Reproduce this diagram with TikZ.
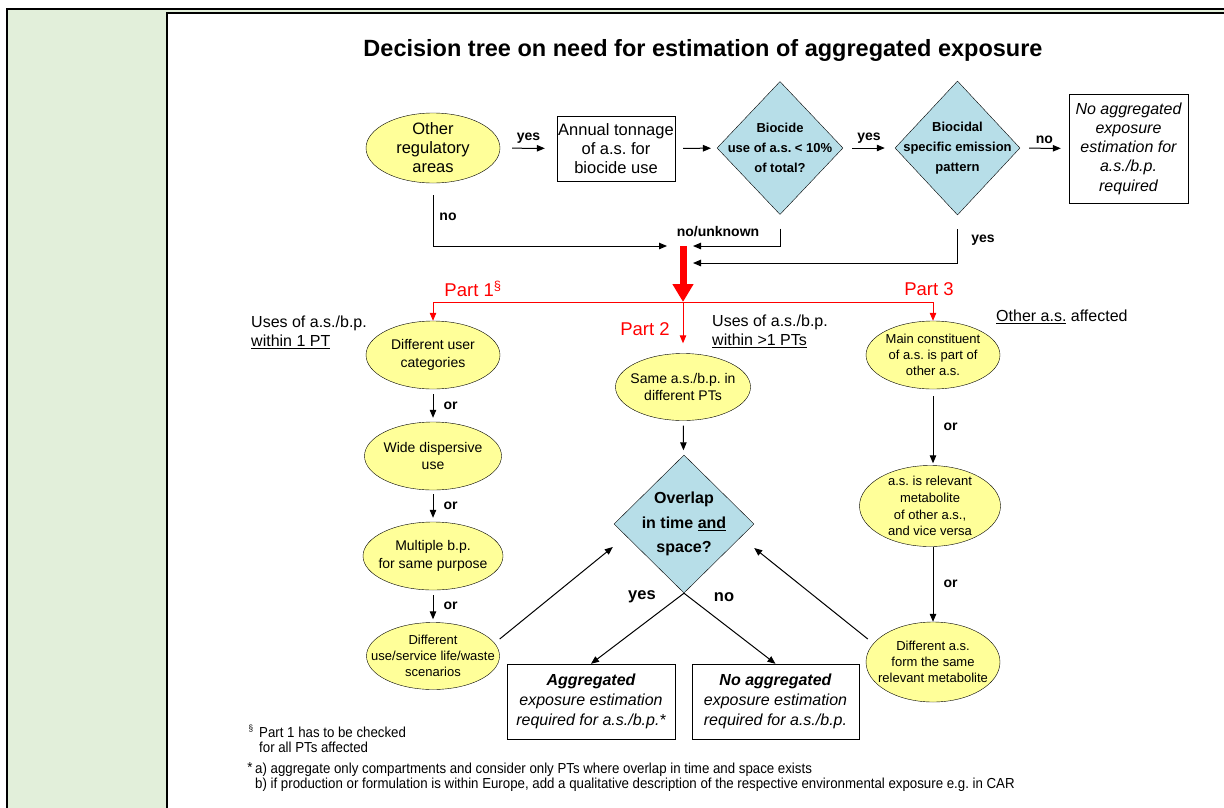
\documentclass[tikz,border=0pt]{standalone}
\usepackage{fontspec}
\setmainfont{Liberation Sans}
\newfontfamily\narrowsf{Liberation Sans}[FakeStretch=0.915]
\usetikzlibrary{shapes.geometric,arrows.meta,positioning,calc}
\definecolor{panelgreen}{RGB}{226,239,218}
\definecolor{ovalyellow}{RGB}{255,255,153}
\definecolor{diamblue}{RGB}{183,222,232}
\newcommand{\fsz}[2]{\fontsize{#1}{#2}\selectfont}
\frenchspacing

\begin{document}
\begin{tikzpicture}[x=1pt, y=-1pt,
    oval/.style={ellipse, draw=black, fill=ovalyellow, inner sep=0pt},
    choice/.style={diamond, draw=black, fill=diamblue, inner sep=0pt},
    box/.style={rectangle, draw=black, fill=white, inner sep=0pt, align=center},
    otxt/.style={align=center, inner sep=0pt, font=\fsz{14}{17.5}},
    stxt/.style={align=center, inner sep=0pt, font=\fsz{13}{15.8}},
    dtxt/.style={align=center, inner sep=0pt, font=\fsz{13}{20}\bfseries},
    lbl/.style={font=\fsz{14}{16}\bfseries, inner sep=1pt},
    anno/.style={align=left, inner sep=0pt, font=\fsz{16}{19}},
    parttxt/.style={text=red, inner sep=0pt, font=\fsz{18.5}{20}},
    arrow/.style={-{Triangle[length=8pt, width=6.5pt]}, line width=1pt},
    redarrow/.style={-{Triangle[length=8pt, width=6.5pt]}, draw=red, line width=1pt},
    bigred/.style={-{Triangle[length=18pt, width=20pt]}, draw=red, line width=7pt},
    foot/.style={align=left, inner sep=0pt, font=\narrowsf\fsz{14.5}{14.5}}
]
\useasboundingbox (0,0) rectangle (1224,807);

% frame
\fill[panelgreen] (7,9) rectangle (1240,820);
\draw[line width=1.6pt] (7,820) -- (7,9) -- (1240,9);
\draw[line width=1.3pt, fill=white] (167,13) rectangle (1240,820);

\node[font=\fsz{23.5}{26}\bfseries] (title) at (703,50) {Decision tree on need for estimation of aggregated exposure};

% top row
\node[oval, minimum width=134pt, minimum height=70pt, label={[otxt, font=\fsz{16.5}{19}]center:{Other\\regulatory\\areas}}] (oth) at (433,148) {};
\node[box, minimum width=118pt, minimum height=65pt, font=\fsz{16.5}{19}] (ton) at (616,148.5) {Annual tonnage\\of a.s. for\\biocide use};
\node[choice, minimum width=126pt, minimum height=133pt, label={[dtxt]center:{Biocide\\use of a.s. < 10\%\\of total?}}] (bio) at (780,148) {};
\node[choice, minimum width=125pt, minimum height=134pt, label={[dtxt]center:{Biocidal\\specific emission\\pattern}}] (emi) at (957.5,148) {};
\node[box, minimum width=119pt, minimum height=109pt, font=\fsz{16}{19.3}\itshape] (noagg1) at (1128.5,148.5) {No aggregated\\exposure\\estimation for\\a.s./b.p.\\required};

\draw[arrow, shorten <=12pt, shorten >=12pt] (oth) -- node[lbl, above=3pt] (yes1) {yes} (ton);
\draw[arrow, shorten <=8pt, shorten >=6pt] (ton) -- (bio);
\draw[arrow, shorten <=9pt, shorten >=10pt] (bio) -- node[lbl, above=3pt] (yes2) {yes} (emi);
\draw[arrow, shorten <=9pt, shorten >=8pt] (emi) -- node[lbl, above=3pt] (no2) {no} (noagg1);

% merging into the red arrow
\coordinate (merge) at (683,246);
\coordinate (split) at (683,302);
\draw[arrow, shorten <=12pt] (oth.south) |- ([xshift=-16pt]merge);
\node[lbl] (no1) at (448,217) {no};
\draw[arrow, shorten <=14pt] (bio.south) |- ([xshift=10pt]merge);
\node[lbl] (nounk) at (718,232) {no/unknown};
\draw[arrow, shorten <=14pt] (emi.south) |- ([xshift=10pt, yshift=-17pt]merge);
\node[lbl] (yes3) at (983,240) {yes};
\draw[bigred] (merge) -- (split);

% Part 1
\node[oval, minimum width=134pt, minimum height=68pt, label={[otxt]center:{Different user\\categories}}] (p1a) at (433,355) {};
\node[oval, minimum width=137pt, minimum height=68pt, label={[otxt]center:{Wide dispersive\\use}}] (p1b) at (433,456) {};
\node[oval, minimum width=140pt, minimum height=68pt, label={[otxt]center:{Multiple b.p.\\for same purpose}}] (p1c) at (433,556) {};
\node[oval, minimum width=133pt, minimum height=67pt, label={[stxt]center:{Different\\use/service life/waste\\scenarios}}] (p1d) at (433,656) {};
\draw[arrow, shorten <=5pt, shorten >=4pt] (p1a) -- node[lbl, right=9pt] (or1) {or} (p1b);
\draw[arrow, shorten <=4pt, shorten >=4pt] (p1b) -- node[lbl, right=9pt] (or2) {or} (p1c);
\draw[arrow, shorten <=5pt, shorten >=3pt] (p1c) -- node[lbl, right=9pt] (or3) {or} (p1d);
\node[anno, anchor=west] (use1) at (251,332) {Uses of a.s./b.p.\\\underline{within 1 PT}};

% Part 2
\node[oval, minimum width=135pt, minimum height=67pt, label={[otxt]center:{Same a.s./b.p. in\\different PTs}}] (p2a) at (683,387) {};
\node[choice, minimum width=140pt, minimum height=138pt, label={[align=center, inner sep=0pt, font=\fsz{16}{24.5}\bfseries]center:{Overlap\\in time \underline{and}\\space?}}] (ovl) at (684,524) {};
\draw[arrow, shorten <=5pt, shorten >=5pt] (p2a) -- (ovl);
\node[anno, anchor=west] (use2) at (712,331) {Uses of a.s./b.p.\\\underline{within >1 PTs}};

\node[box, minimum width=168pt, minimum height=75pt, font=\fsz{16}{20}\itshape] (agg) at (591,701.5) {\textbf{Aggregated}\\exposure estimation\\required for a.s./b.p.*};
\node[box, minimum width=167pt, minimum height=75pt, font=\fsz{16}{20}\itshape] (noagg2) at (775.5,701.5) {\textbf{No aggregated}\\exposure estimation\\required for a.s./b.p.};
\draw[arrow] (ovl.south) -- (agg.north);
\draw[arrow] (ovl.south) -- (noagg2.north);
\node[lbl, font=\fsz{16.5}{18}\bfseries] (yes4) at (642,597) {yes};
\node[lbl, font=\fsz{16.5}{18}\bfseries] (no4) at (724,597) {no};

% Part 3
\node[oval, minimum width=134pt, minimum height=68pt, label={[stxt]center:{Main constituent\\of a.s. is part of\\other a.s.}}] (p3a) at (933,355) {};
\node[oval, minimum width=141pt, minimum height=81pt, label={[stxt, font=\fsz{13}{16.7}]center:{a.s. is relevant\\metabolite\\of other a.s.,\\and vice versa}}] (p3b) at (930,506) {};
\node[oval, minimum width=134pt, minimum height=80pt, label={[stxt]center:{Different a.s.\\form the same\\relevant metabolite}}] (p3c) at (933,662) {};
\draw[arrow, shorten <=7pt, shorten >=2pt] (p3a.south) -- (p3a.south |- p3b.north) node[lbl, midway, right=9pt] (or4) {or};
\draw[arrow] (p3a.south |- p3b.south) -- (p3a.south |- p3c.north) node[lbl, midway, right=9pt] (or5) {or};
\node[anno, anchor=west] (oth3) at (996,317) {\underline{Other a.s.} affected};

% back into the overlap check
\draw[arrow] ($(p1d.east)+(0,-17)$) -- ($(ovl.west)+(-1,23)$);
\draw[arrow] ($(p3c.west)+(2,-23)$) -- ($(ovl.east)+(0,24)$);

% red split
\draw[red, line width=1pt] (p1a.north |- split) -- (p3a.north |- split);
\draw[redarrow] (p1a.north |- split) -- (p1a.north);
\draw[redarrow, shorten >=10pt] (split) -- (p2a.north);
\draw[redarrow] (p3a.north |- split) -- (p3a.north);
\node[parttxt] (part1) at (473,289) {Part 1\textsuperscript{\S}};
\node[parttxt] (part2) at (645,329) {Part 2};
\node[parttxt] (part3) at (929,289) {Part 3};

% footnotes
\node[foot, font=\narrowsf\fsz{9}{9}] (fn1s) at (251,729) {\S};
\node[foot, anchor=west] (fn1) at (259,740) {Part 1 has to be checked\\for all PTs affected};
\node[foot] (fn2s) at (250,767) {*};
\node[foot, anchor=west] (fn2) at (255,777) {a) aggregate only compartments and consider only PTs where overlap in time and space exists\\b) if production or formulation is within Europe, add a qualitative description of the respective environmental exposure e.g. in CAR};
\end{tikzpicture}
\end{document}
